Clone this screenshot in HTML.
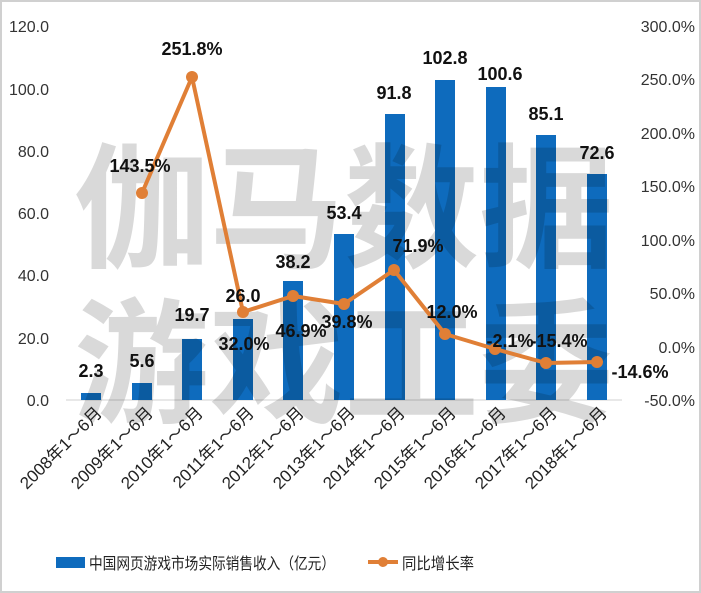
<!DOCTYPE html>
<html><head><meta charset="utf-8"><style>
html,body{margin:0;padding:0;background:#fff}
svg{display:block}
text{font-family:"Liberation Sans","Noto Sans CJK SC",sans-serif}
</style></head><body>
<svg width="701" height="593" viewBox="0 0 701 593" xmlns="http://www.w3.org/2000/svg">
<rect x="1" y="1" width="699" height="591" fill="#fff" stroke="#d0d0d0" stroke-width="2"/>
<g font-size="16" fill="#333" text-anchor="end">
<text x="49" y="32">120.0</text>
<text x="49" y="95">100.0</text>
<text x="49" y="157">80.0</text>
<text x="49" y="219">60.0</text>
<text x="49" y="281">40.0</text>
<text x="49" y="344">20.0</text>
<text x="49" y="406">0.0</text>
</g>
<g font-size="16" fill="#333" text-anchor="end">
<text x="695" y="32">300.0%</text>
<text x="695" y="85">250.0%</text>
<text x="695" y="139">200.0%</text>
<text x="695" y="192">150.0%</text>
<text x="695" y="246">100.0%</text>
<text x="695" y="299">50.0%</text>
<text x="695" y="353">0.0%</text>
<text x="695" y="406">-50.0%</text>
</g>
<line x1="66" y1="400" x2="622" y2="400" stroke="#d0d0d0" stroke-width="1"/>
<g fill="#0e6bbd">
<rect x="81" y="393" width="20" height="7"/>
<rect x="132" y="383" width="20" height="17"/>
<rect x="182" y="339" width="20" height="61"/>
<rect x="233" y="319" width="20" height="81"/>
<rect x="283" y="281" width="20" height="119"/>
<rect x="334" y="234" width="20" height="166"/>
<rect x="385" y="114" width="20" height="286"/>
<rect x="435" y="80" width="20" height="320"/>
<rect x="486" y="87" width="20" height="313"/>
<rect x="536" y="135" width="20" height="265"/>
<rect x="587" y="174" width="20" height="226"/>
</g>
<g font-size="135" font-weight="bold" fill="#000" fill-opacity="0.15">
<text x="74" y="257" font-family="'Noto Sans CJK SC',sans-serif" font-weight="bold">伽马数据</text>
<text x="74" y="412" font-family="'Noto Sans CJK SC',sans-serif" font-weight="bold">游戏工委</text>
</g>
<polyline fill="none" stroke="#e07f36" stroke-width="4" stroke-linejoin="round" points="142,193 192,77 243,312 293,296 344,304 394,270 445,334 495,349 546,363 597,362"/>
<g fill="#e07f36">
<circle cx="142" cy="193" r="6"/><circle cx="192" cy="77" r="6"/><circle cx="243" cy="312" r="6"/><circle cx="293" cy="296" r="6"/><circle cx="344" cy="304" r="6"/><circle cx="394" cy="270" r="6"/><circle cx="445" cy="334" r="6"/><circle cx="495" cy="349" r="6"/><circle cx="546" cy="363" r="6"/><circle cx="597" cy="362" r="6"/>
</g>
<g font-size="18" font-weight="bold" fill="#111" text-anchor="middle">
<text x="91" y="377">2.3</text>
<text x="142" y="367">5.6</text>
<text x="192" y="321">19.7</text>
<text x="243" y="302">26.0</text>
<text x="293" y="268">38.2</text>
<text x="344" y="219">53.4</text>
<text x="394" y="99">91.8</text>
<text x="445" y="64">102.8</text>
<text x="500" y="80">100.6</text>
<text x="546" y="120">85.1</text>
<text x="597" y="159">72.6</text>
<text x="140" y="172">143.5%</text>
<text x="192" y="55">251.8%</text>
<text x="244" y="350">32.0%</text>
<text x="301" y="337">46.9%</text>
<text x="347" y="328">39.8%</text>
<text x="418" y="252">71.9%</text>
<text x="452" y="318">12.0%</text>
<text x="510" y="347">-2.1%</text>
<text x="559" y="347">-15.4%</text>
<text x="640" y="378">-14.6%</text>
</g>
<g font-size="17" fill="#222" text-anchor="end">
<text transform="translate(103,414) rotate(-45)">2008年1～6月</text>
<text transform="translate(154,414) rotate(-45)">2009年1～6月</text>
<text transform="translate(204,414) rotate(-45)">2010年1～6月</text>
<text transform="translate(255,414) rotate(-45)">2011年1～6月</text>
<text transform="translate(305,414) rotate(-45)">2012年1～6月</text>
<text transform="translate(356,414) rotate(-45)">2013年1～6月</text>
<text transform="translate(406,414) rotate(-45)">2014年1～6月</text>
<text transform="translate(457,414) rotate(-45)">2015年1～6月</text>
<text transform="translate(507,414) rotate(-45)">2016年1～6月</text>
<text transform="translate(558,414) rotate(-45)">2017年1～6月</text>
<text transform="translate(608,414) rotate(-45)">2018年1～6月</text>
</g>
<rect x="56" y="557" width="29" height="11" fill="#0e6bbd"/>
<text x="89" y="569" font-size="16" fill="#222" textLength="246" lengthAdjust="spacingAndGlyphs">中国网页游戏市场实际销售收入（亿元）</text>
<line x1="368" y1="562" x2="398" y2="562" stroke="#e07f36" stroke-width="4"/>
<circle cx="383" cy="562" r="5" fill="#e07f36"/>
<text x="402" y="569" font-size="16" fill="#222" textLength="72" lengthAdjust="spacingAndGlyphs">同比增长率</text>
</svg>
</body></html>
